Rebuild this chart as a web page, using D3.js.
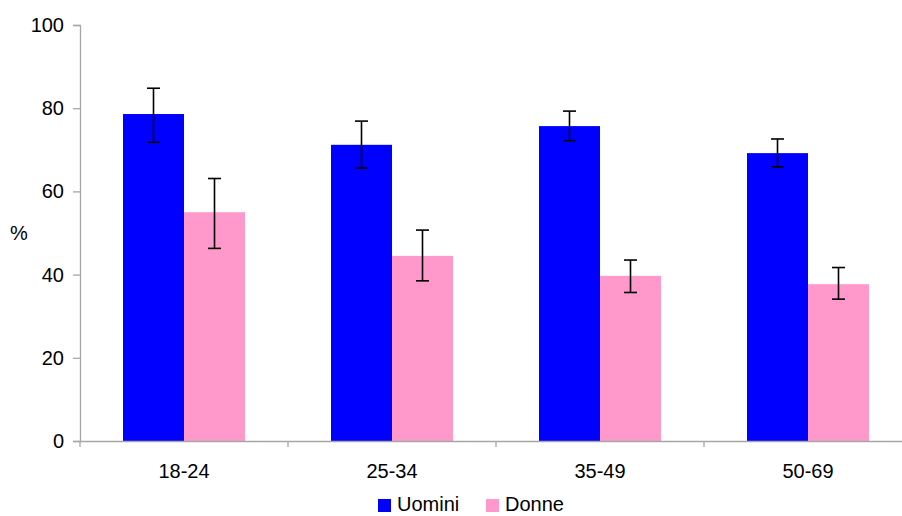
<!DOCTYPE html>
<html><head><meta charset="utf-8">
<script src="https://cdn.jsdelivr.net/npm/d3@7"></script>
<style>body{margin:0;background:#fff}svg{display:block}text{font-family:"Liberation Sans",Arial,sans-serif;fill:#000}</style>
</head><body><svg id="c" width="902" height="516"></svg>
<script>
const categories = ["18-24","25-34","35-49","50-69"];
const seriesNames = ["Uomini","Donne"];
const uominiValues = [78.6, 71.2, 75.7, 69.2];
const uominiLow   = [71.8, 65.6, 72.2, 65.9];
const uominiHigh  = [84.8, 76.9, 79.3, 72.6];
const donneValues = [55.0, 44.5, 39.7, 37.7];
const donneLow    = [46.3, 38.5, 35.7, 34.1];
const donneHigh   = [63.1, 50.7, 43.5, 41.7];
const yTicks = [0,20,40,60,80,100];
const colors = ["#0000ff","#ff99cc"];

(function(){
const svg = d3.select("#c");
const mLeft = 80, mRight = 912, mTop = 25, mBottom = 441;
const x = d3.scaleBand().domain(categories).range([mLeft,mRight]).padding(0);
const y = d3.scaleLinear().domain([0,100]).range([mBottom,mTop]);
const groupW = 122;
const xs = d3.scaleBand().domain(seriesNames).range([0,groupW]).padding(0);
const FS = 20;

const series = [
  {name:"Uomini", vals:uominiValues, lo:uominiLow, hi:uominiHigh},
  {name:"Donne", vals:donneValues, lo:donneLow, hi:donneHigh}
];

series.forEach((s,si)=>{
  const g = svg.append("g");
  categories.forEach((c,i)=>{
    const x0 = x(c) + (x.bandwidth()-groupW)/2 + xs(s.name);
    g.append("rect").attr("x",x0).attr("y",y(s.vals[i])).attr("width",xs.bandwidth())
      .attr("height",y(0)-y(s.vals[i])).attr("fill",colors[si]);
  });
});
series.forEach((s,si)=>{
  categories.forEach((c,i)=>{
    const cx = x(c) + (x.bandwidth()-groupW)/2 + xs(s.name) + xs.bandwidth()/2;
    const g = svg.append("g").attr("stroke","#000").attr("stroke-width",1.6);
    g.append("line").attr("x1",cx).attr("x2",cx).attr("y1",y(s.hi[i])).attr("y2",y(s.lo[i]));
    g.append("line").attr("x1",cx-6.5).attr("x2",cx+6.5).attr("y1",y(s.hi[i])).attr("y2",y(s.hi[i]));
    g.append("line").attr("x1",cx-6.5).attr("x2",cx+6.5).attr("y1",y(s.lo[i])).attr("y2",y(s.lo[i]));
  });
});

const ya = svg.append("g").attr("transform",`translate(${mLeft},0)`)
  .call(d3.axisLeft(y).tickValues(yTicks).tickSize(7).tickPadding(9));
ya.select(".domain").attr("stroke","#a6a6a6").attr("stroke-width",1.3);
ya.selectAll(".tick line").attr("stroke","#a6a6a6").attr("stroke-width",1.3);
ya.selectAll("text").attr("font-size",FS).attr("font-family","Liberation Sans, Arial, sans-serif").attr("fill","#000");

const xa = svg.append("g").attr("transform",`translate(0,${mBottom})`)
  .call(d3.axisBottom(x).tickSize(0).tickPadding(0));
xa.select(".domain").attr("stroke","#a6a6a6").attr("stroke-width",1.3);
xa.selectAll(".tick text").attr("font-size",FS).attr("font-family","Liberation Sans, Arial, sans-serif").attr("fill","#000").attr("dy","37");
const sepTicks = categories.map(c=>x(c));
sepTicks.push(x(categories[categories.length-1])+x.bandwidth());
xa.selectAll(".sep").data(sepTicks).enter().append("line")
  .attr("x1",d=>d).attr("x2",d=>d).attr("y1",0).attr("y2",6)
  .attr("stroke","#a6a6a6").attr("stroke-width",1.3);

svg.append("text").attr("x",19).attr("y",240).attr("text-anchor","middle").attr("font-size",FS).text("%");

const legX = [378, 486];
series.forEach((s,si)=>{
  svg.append("rect").attr("x",legX[si]).attr("y",499).attr("width",13).attr("height",13).attr("fill",colors[si]);
  svg.append("text").attr("x",legX[si]+19).attr("y",511).attr("font-size",FS).text(s.name);
});
})();
</script></body></html>
